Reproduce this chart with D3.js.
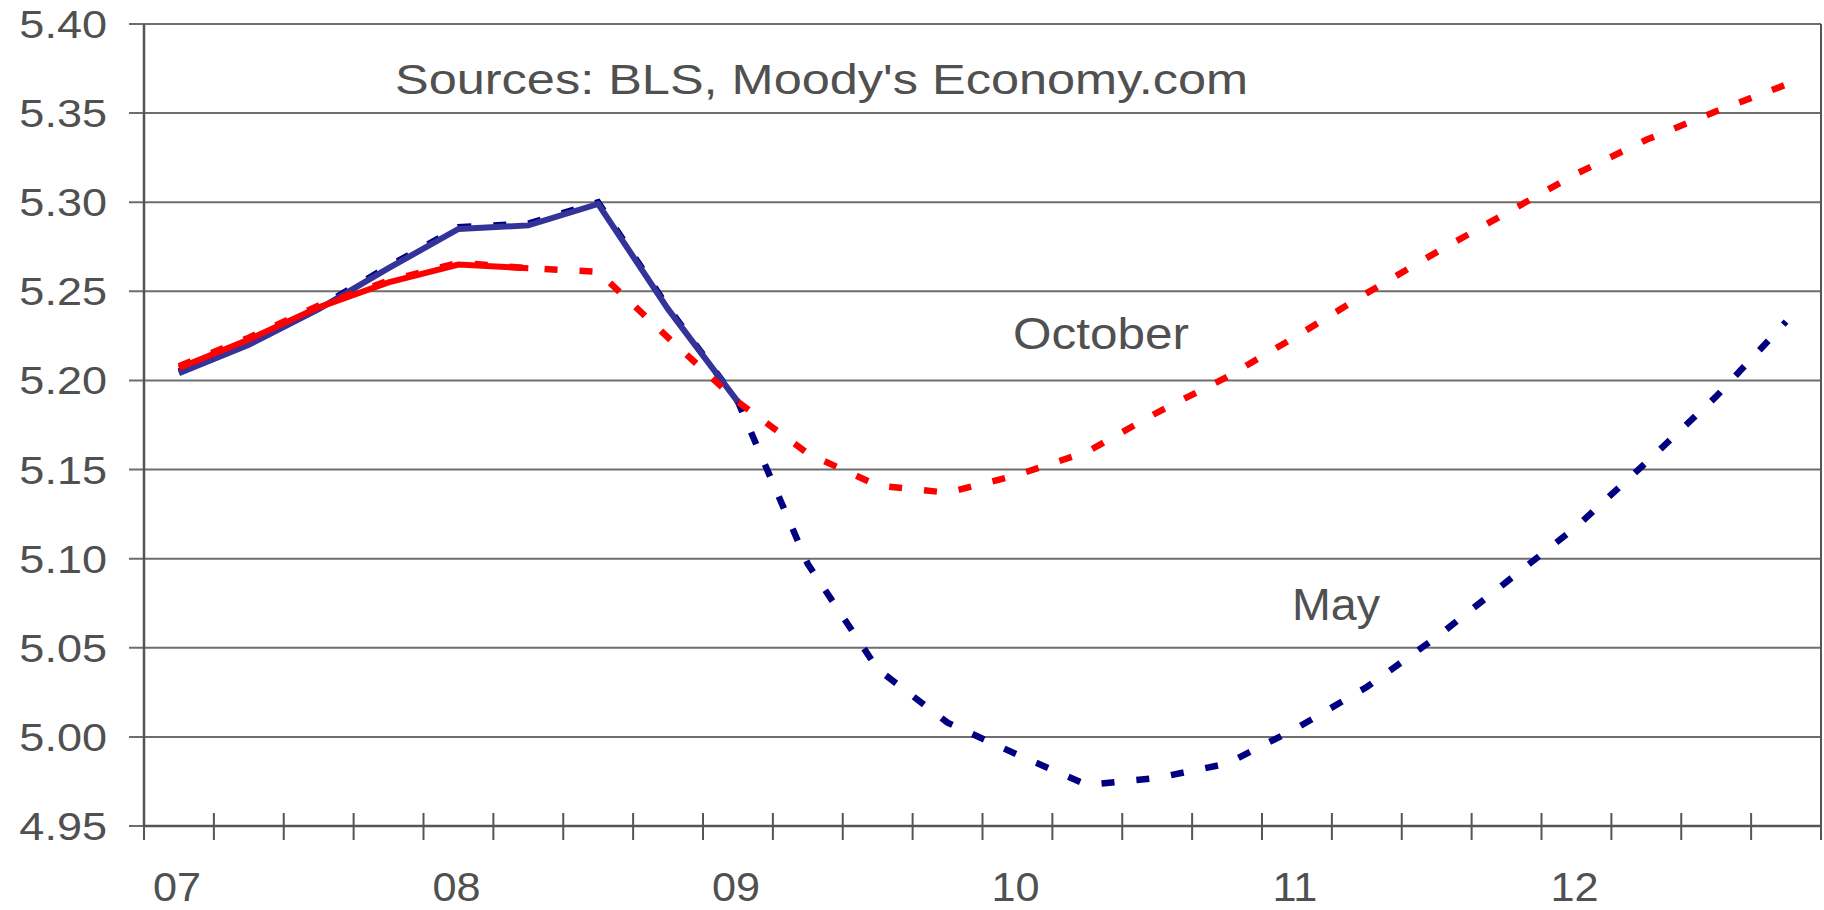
<!DOCTYPE html>
<meta charset="utf-8">
<script src="https://d3js.org/d3.v7.min.js"></script>
<style>
  body { margin: 0; background: #fff; }
  text { font-family: "Liberation Sans", Arial, sans-serif; fill: #505050; }
</style>
<div id="chart"></div>
<script>

// quarters 2007Q1 .. 2012Q4
var quarters = ["07Q1","07Q2","07Q3","07Q4","08Q1","08Q2","08Q3","08Q4",
                "09Q1","09Q2","09Q3","09Q4","10Q1","10Q2","10Q3","10Q4",
                "11Q1","11Q2","11Q3","11Q4","12Q1","12Q2","12Q3","12Q4"];
var yearLabels = {"07Q1": "07", "08Q1": "08", "09Q1": "09", "10Q1": "10", "11Q1": "11", "12Q1": "12"};
var yTicks = [4.95, 5.00, 5.05, 5.10, 5.15, 5.20, 5.25, 5.30, 5.35, 5.40];

// history (solid) and forecasts (dashed)
var mayActual = [5.204, 5.220, 5.240, 5.263, 5.285, 5.287, 5.299, 5.240, 5.188];
var mayForecast = [5.205, 5.221, 5.241, 5.264, 5.286, 5.288, 5.300, 5.241, 5.188,
                   5.097, 5.038, 5.008, 4.990, 4.973, 4.977, 4.985, 5.005, 5.028,
                   5.056, 5.087, 5.118, 5.154, 5.191, 5.233];
var octActual = [5.207, 5.223, 5.241, 5.255, 5.265, 5.263];
var octForecast = [5.208, 5.224, 5.242, 5.256, 5.266, 5.263, 5.261, 5.224, 5.188,
                   5.159, 5.141, 5.137, 5.147, 5.160, 5.182, 5.202, 5.225, 5.249,
                   5.272, 5.294, 5.316, 5.335, 5.351, 5.366];

var W = 1824, H = 910;
var m = {left: 144, right: 1821, top: 24, bottom: 826};

var svg = d3.select("#chart").append("svg")
    .attr("width", W)
    .attr("height", H);

var x = d3.scaleBand()
    .domain(quarters)
    .range([m.left, m.right]);

var y = d3.scaleLinear()
    .domain([4.95, 5.40])
    .range([m.bottom, m.top]);

// gridlines
svg.append("g")
    .selectAll("line")
    .data(yTicks)
    .enter().append("line")
      .attr("x1", m.left - 15)
      .attr("x2", m.right)
      .attr("y1", function(d) { return y(d); })
      .attr("y2", function(d) { return y(d); })
      .attr("stroke", "#6e6e6e")
      .attr("stroke-width", 2);

// y labels (stretched a bit wider like the original)
svg.append("g")
    .selectAll("text")
    .data(yTicks)
    .enter().append("text")
      .attr("transform", function(d) { return "translate(107," + (y(d) + 14) + ") scale(1.17,1)"; })
      .attr("text-anchor", "end")
      .style("font-size", "38.5px")
      .text(function(d) { return d3.format(".2f")(d); });

svg.append("line")
    .attr("x1", m.left).attr("x2", m.left)
    .attr("y1", m.top).attr("y2", m.bottom)
    .attr("stroke", "#555").attr("stroke-width", 2.5);

// right border
svg.append("line")
    .attr("x1", m.right).attr("x2", m.right)
    .attr("y1", m.top).attr("y2", m.bottom + 14)
    .attr("stroke", "#555").attr("stroke-width", 2);

// x axis with ticks between categories
svg.append("line")
    .attr("x1", m.left).attr("x2", m.right)
    .attr("y1", m.bottom).attr("y2", m.bottom)
    .attr("stroke", "#555").attr("stroke-width", 2.5);

svg.append("g")
    .selectAll("line")
    .data(quarters)
    .enter().append("line")
      .attr("x1", function(d) { return x(d); })
      .attr("x2", function(d) { return x(d); })
      .attr("y1", m.bottom - 13)
      .attr("y2", m.bottom + 14)
      .attr("stroke", "#555")
      .attr("stroke-width", 2);

svg.append("g")
    .selectAll("text")
    .data(quarters.filter(function(d) { return yearLabels[d]; }))
    .enter().append("text")
      .attr("transform", function(d) { return "translate(" + (x(d) + x.bandwidth() / 2 - 2) + ",901) scale(1.08,1)"; })
      .attr("text-anchor", "middle")
      .style("font-size", "40px")
      .text(function(d) { return yearLabels[d]; });

// lines
var line = d3.line()
    .x(function(d, i) { return x(quarters[i]) + x.bandwidth() / 2; })
    .y(function(d) { return y(d); });

svg.append("path").datum(mayForecast)
    .attr("d", line).attr("fill", "none")
    .attr("stroke", "#000080").attr("stroke-width", 6.5)
    .attr("stroke-dasharray", "13,22");

svg.append("path").datum(mayActual)
    .attr("d", line).attr("fill", "none")
    .attr("stroke", "#333399").attr("stroke-width", 6);

svg.append("path").datum(octForecast)
    .attr("d", line).attr("fill", "none")
    .attr("stroke", "#ff0000").attr("stroke-width", 6.5)
    .attr("stroke-dasharray", "13,22");

svg.append("path").datum(octActual)
    .attr("d", line).attr("fill", "none")
    .attr("stroke", "#ff0000").attr("stroke-width", 6);

// annotations
svg.append("text")
    .attr("x", 395).attr("y", 94)
    .attr("textLength", 853).attr("lengthAdjust", "spacingAndGlyphs")
    .style("font-size", "43px")
    .text("Sources:  BLS, Moody's Economy.com");

svg.append("text")
    .attr("x", 1013).attr("y", 349)
    .attr("textLength", 176).attr("lengthAdjust", "spacingAndGlyphs")
    .style("font-size", "44px")
    .text("October");

svg.append("text")
    .attr("x", 1292).attr("y", 620)
    .attr("textLength", 88).attr("lengthAdjust", "spacingAndGlyphs")
    .style("font-size", "44px")
    .text("May");

</script>
